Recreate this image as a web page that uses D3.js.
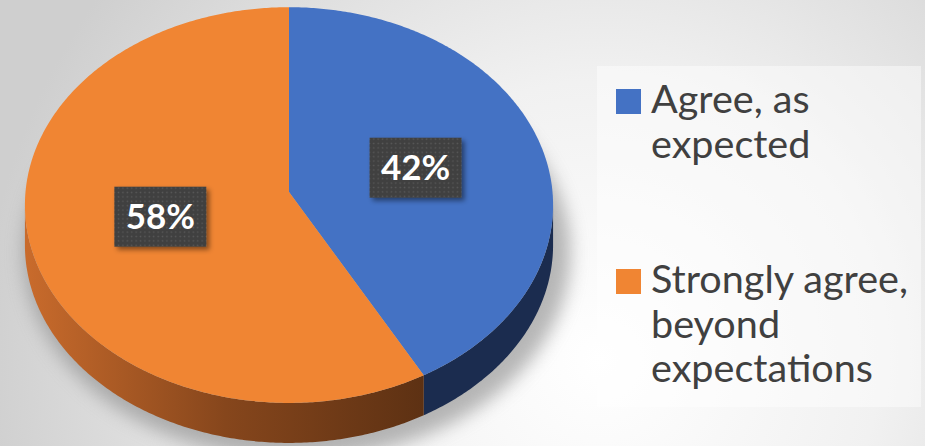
<!DOCTYPE html>
<html>
<head>
<meta charset="utf-8">
<script src="https://cdn.jsdelivr.net/npm/d3@7"></script>
<style>
  html, body { margin: 0; padding: 0; overflow: hidden; }
  svg { display: block; }
</style>
</head>
<body>
<div id="chart"></div>
<script>
const width = 925;
const height = 446;

// chart data
const categories = ["Agree, as expected", "Strongly agree, beyond expectations"];
const values = [42, 58];
const legendLines = [["Agree, as", "expected"], ["Strongly agree,", "beyond", "expectations"]];
const topColors = ["#4472c4", "#f08533"];

// pie geometry: a flat disc seen in light perspective
const cx = 289, hubY = 192;
const R = 263.5, K = 197, persp = 0.066, depth = 40;

// X across, Z toward the far side (both in units of the radius)
function project(X, Z) {
    const s = 1 / (1 + persp * Z);
    return [cx + R * X * s, hubY - K * Z * s];
}
const rim = a => project(Math.sin(a), Math.cos(a));

const svg = d3.select("#chart").append("svg")
    .attr("width", width)
    .attr("height", height);

const defs = svg.append("defs");

const bg = defs.append("radialGradient")
    .attr("id", "bg")
    .attr("gradientUnits", "userSpaceOnUse")
    .attr("cx", 600).attr("cy", 360).attr("r", 620);
bg.append("stop").attr("offset", "0").attr("stop-color", "#ffffff");
bg.append("stop").attr("offset", "0.45").attr("stop-color", "#f1f1f1");
bg.append("stop").attr("offset", "1").attr("stop-color", "#cfcfcf");

const sideGrad = defs.append("linearGradient")
    .attr("id", "sideOrange")
    .attr("gradientUnits", "userSpaceOnUse")
    .attr("x1", 25).attr("y1", 0).attr("x2", 425).attr("y2", 0);
sideGrad.append("stop").attr("offset", "0").attr("stop-color", "#c96b2c");
sideGrad.append("stop").attr("offset", "0.5").attr("stop-color", "#86461c");
sideGrad.append("stop").attr("offset", "1").attr("stop-color", "#5d3113");

defs.append("filter").attr("id", "blur")
    .attr("x", "-20%").attr("y", "-20%").attr("width", "140%").attr("height", "140%")
    .append("feGaussianBlur").attr("stdDeviation", 9);

const shadowF = defs.append("filter").attr("id", "boxShadow")
    .attr("x", "-20%").attr("y", "-20%").attr("width", "150%").attr("height", "150%");
shadowF.append("feDropShadow")
    .attr("dx", 3).attr("dy", 3).attr("stdDeviation", 2.5)
    .attr("flood-color", "#000").attr("flood-opacity", 0.45);

const dots = defs.append("pattern")
    .attr("id", "dots")
    .attr("patternUnits", "userSpaceOnUse")
    .attr("width", 4.4).attr("height", 4.4);
dots.append("rect").attr("width", 4.4).attr("height", 4.4).attr("fill", "#404040");
dots.append("rect").attr("x", 1.5).attr("y", 1.5).attr("width", 1.4).attr("height", 1.4).attr("fill", "#5a5a5a");

svg.append("rect")
    .attr("width", width).attr("height", height)
    .attr("fill", "url(#bg)");

// soft shadow under the pie
svg.append("ellipse")
    .attr("cx", cx + 8).attr("cy", 213 + depth)
    .attr("rx", R + 10).attr("ry", 206)
    .attr("fill", "#888888")
    .attr("opacity", 0.6)
    .attr("filter", "url(#blur)");

const pie = d3.pie().sort(null).value(d => d)(values);

function arcPoints(a0, a1) {
    const n = Math.max(2, Math.ceil(Math.abs(a1 - a0) / 0.01));
    return d3.range(n + 1).map(i => a0 + (a1 - a0) * i / n);
}

const line = d3.line();

// sides: only the front part of the rim shows
const sideStart = Math.acos(-persp);
const sideEnd = 2 * Math.PI - sideStart;
const sideColors = ["#1b2c4f", "url(#sideOrange)"];
pie.forEach((p, i) => {
    const a0 = Math.max(p.startAngle, sideStart);
    const a1 = Math.min(p.endAngle, sideEnd);
    if (a1 <= a0) return;
    const angles = arcPoints(a0, a1);
    const pts = angles.map(rim)
        .concat(angles.slice().reverse().map(a => {
            const q = rim(a);
            return [q[0], q[1] + depth];
        }));
    svg.append("path")
        .attr("d", line(pts) + "Z")
        .attr("fill", sideColors[i]);
});

// top faces
pie.forEach((p, i) => {
    const pts = [[cx, hubY]].concat(arcPoints(p.startAngle, p.endAngle).map(rim));
    svg.append("path")
        .attr("d", line(pts) + "Z")
        .attr("fill", topColors[i]);
});

// data labels
const labelArc = d3.arc().innerRadius(0).outerRadius(1);
const fmt = d3.format(".0%");
const total = d3.sum(values);
pie.forEach((p, i) => {
    const c = labelArc.centroid(p);
    const [lx, ly] = project(c[0], -c[1]);
    const g = svg.append("g").attr("transform", `translate(${lx},${ly})`);
    g.append("rect")
        .attr("x", -46).attr("y", -30)
        .attr("width", 92).attr("height", 60)
        .attr("fill", "url(#dots)")
        .attr("filter", "url(#boxShadow)");
    g.append("text")
        .attr("text-anchor", "middle")
        .attr("y", 12.5)
        .attr("fill", "#ffffff")
        .attr("font-family", "Lato, 'Open Sans', sans-serif")
        .attr("font-weight", "bold")
        .attr("font-size", 35)
        .text(fmt(values[i] / total));
});

// legend
svg.append("rect")
    .attr("x", 597).attr("y", 66)
    .attr("width", 324).attr("height", 341)
    .attr("fill", "#ffffff")
    .attr("opacity", 0.45);

const legendTop = [113, 293];
const lineH = 44.5;
categories.forEach((name, i) => {
    svg.append("rect")
        .attr("x", 616).attr("y", legendTop[i] - 24)
        .attr("width", 25).attr("height", 25)
        .attr("fill", topColors[i]);
    const t = svg.append("text")
        .attr("class", "legend")
        .attr("x", 651).attr("y", legendTop[i])
        .attr("fill", "#404040")
        .attr("font-family", "Lato, 'Open Sans', sans-serif")
        .attr("font-size", 36);
    legendLines[i].forEach((s, j) => {
        t.append("tspan")
            .attr("x", 651)
            .attr("dy", j === 0 ? 0 : lineH)
            .text(s);
    });
});

// fit legend font so the longest line spans like the original
const probe = svg.selectAll("text.legend tspan").filter(function () { return this.textContent === "Strongly agree,"; });
if (!probe.empty()) {
    const w = probe.node().getComputedTextLength();
    svg.selectAll("text.legend").attr("font-size", 36 * 257 / w);
}
</script>
</body>
</html>
